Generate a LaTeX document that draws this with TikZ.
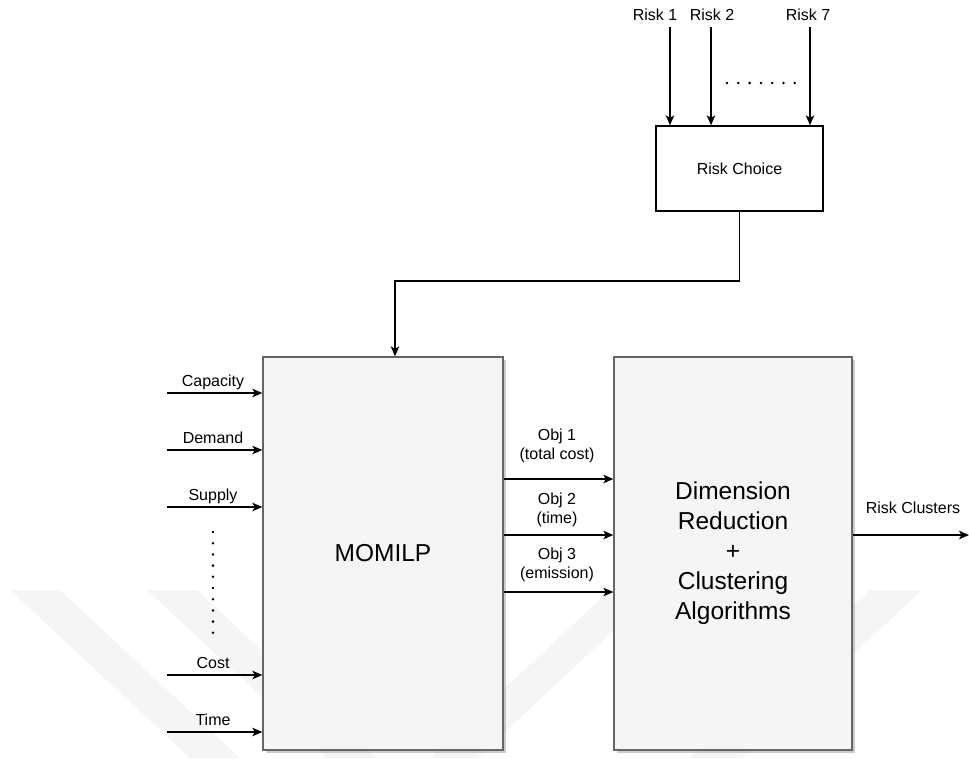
\documentclass[tikz,border=0pt]{standalone}
\usepackage{fontspec}
\setmainfont{Liberation Sans}
\usetikzlibrary{positioning,arrows.meta,shadows}

\definecolor{boxgray}{HTML}{666666}
\definecolor{boxfill}{HTML}{F5F5F5}

\tikzset{
  blockbox/.style={draw=boxgray, fill=boxfill, line width=1.3pt,
    minimum width=240pt, minimum height=393pt, align=center,
    drop shadow={shadow xshift=3pt, shadow yshift=-3pt, fill=black!40, opacity=0.5},
    font=\fontsize{24.5}{30}\selectfont},
  choicebox/.style={draw, fill=white, line width=1.3pt,
    minimum width=167pt, minimum height=85pt, font=\fontsize{16}{19}\selectfont},
  lbl/.style={font=\fontsize{16}{19.5}\selectfont, align=center, inner sep=0pt},
  arr/.style={-{Stealth[length=10pt, width=8.5pt, inset=2.5pt]}, line width=1.3pt},
  wmark/.style={fill=black!4},
}

\begin{document}
\begin{tikzpicture}[x=1pt, y=-1pt]
  \useasboundingbox (0,0) rectangle (969,758);

  % watermark stripes
  \fill[wmark] (10,590) -- (60,590) -- (240,758) -- (190,758) -- cycle;
  \fill[wmark] (147,590) -- (197,590) -- (377,758) -- (327,758) -- cycle;
  \fill[wmark] (610,590) -- (657,590) -- (477,758) -- (430,758) -- cycle;
  \fill[wmark] (870,590) -- (922,590) -- (742,758) -- (690,758) -- cycle;

  % blocks
  \node[choicebox] (choice) at (739.5,168.5) {Risk Choice};
  \node[blockbox] (momilp) at (383,553.5) {MOMILP};
  \node[blockbox, minimum width=238pt] (dimred) at (733,553.5)
    {Dimension\\Reduction\\+\\Clustering\\Algorithms};

  % risks
  \foreach \name/\x/\lx/\txt in {r1/670/655/Risk 1, r2/711/712/Risk 2, r7/810/808/Risk 7} {
    \node[lbl, anchor=base] (\name) at (\lx,20) {\txt};
    \coordinate (\name s) at (\x,27);
    \draw[arr] (\name s) -- (\name s |- choice.north);
  }
  \foreach \i in {0,...,6}
    \fill (727+11.3*\i,83) circle (1.4);

  \coordinate (bend) at (395,281);
  \draw[arr] (choice.south) |- (bend) -- (bend |- momilp.north);

  % model inputs
  \foreach \name/\y/\txt in {cap/393/Capacity, dem/450/Demand, sup/507/Supply, cost/675/Cost, time/732/Time} {
    \coordinate (\name) at (167,\y);
    \draw[arr] (\name) -- (\name -| momilp.west);
    \node[lbl, anchor=base] (\name l) at (213,\y-6.5) {\txt};
  }
  \foreach \i in {0,...,9}
    \fill (213,532+11.2*\i) circle (1.4);

  % objectives
  \foreach \name/\y/\ly/\txt in {o1/479/446/Obj 1\\(total cost), o2/535/510/Obj 2\\(time), o3/592/565/Obj 3\\(emission)} {
    \coordinate (\name) at (557,\y);
    \draw[arr] (\name -| momilp.east) -- (\name -| dimred.west);
    \node[lbl] (\name l) at (557,\ly) {\txt};
  }

  % output
  \coordinate (out) at (969,535);
  \draw[arr] (out -| dimred.east) -- (out);
  \node[lbl, anchor=base] (outl) at (913,513) {Risk Clusters};
\end{tikzpicture}
\end{document}
